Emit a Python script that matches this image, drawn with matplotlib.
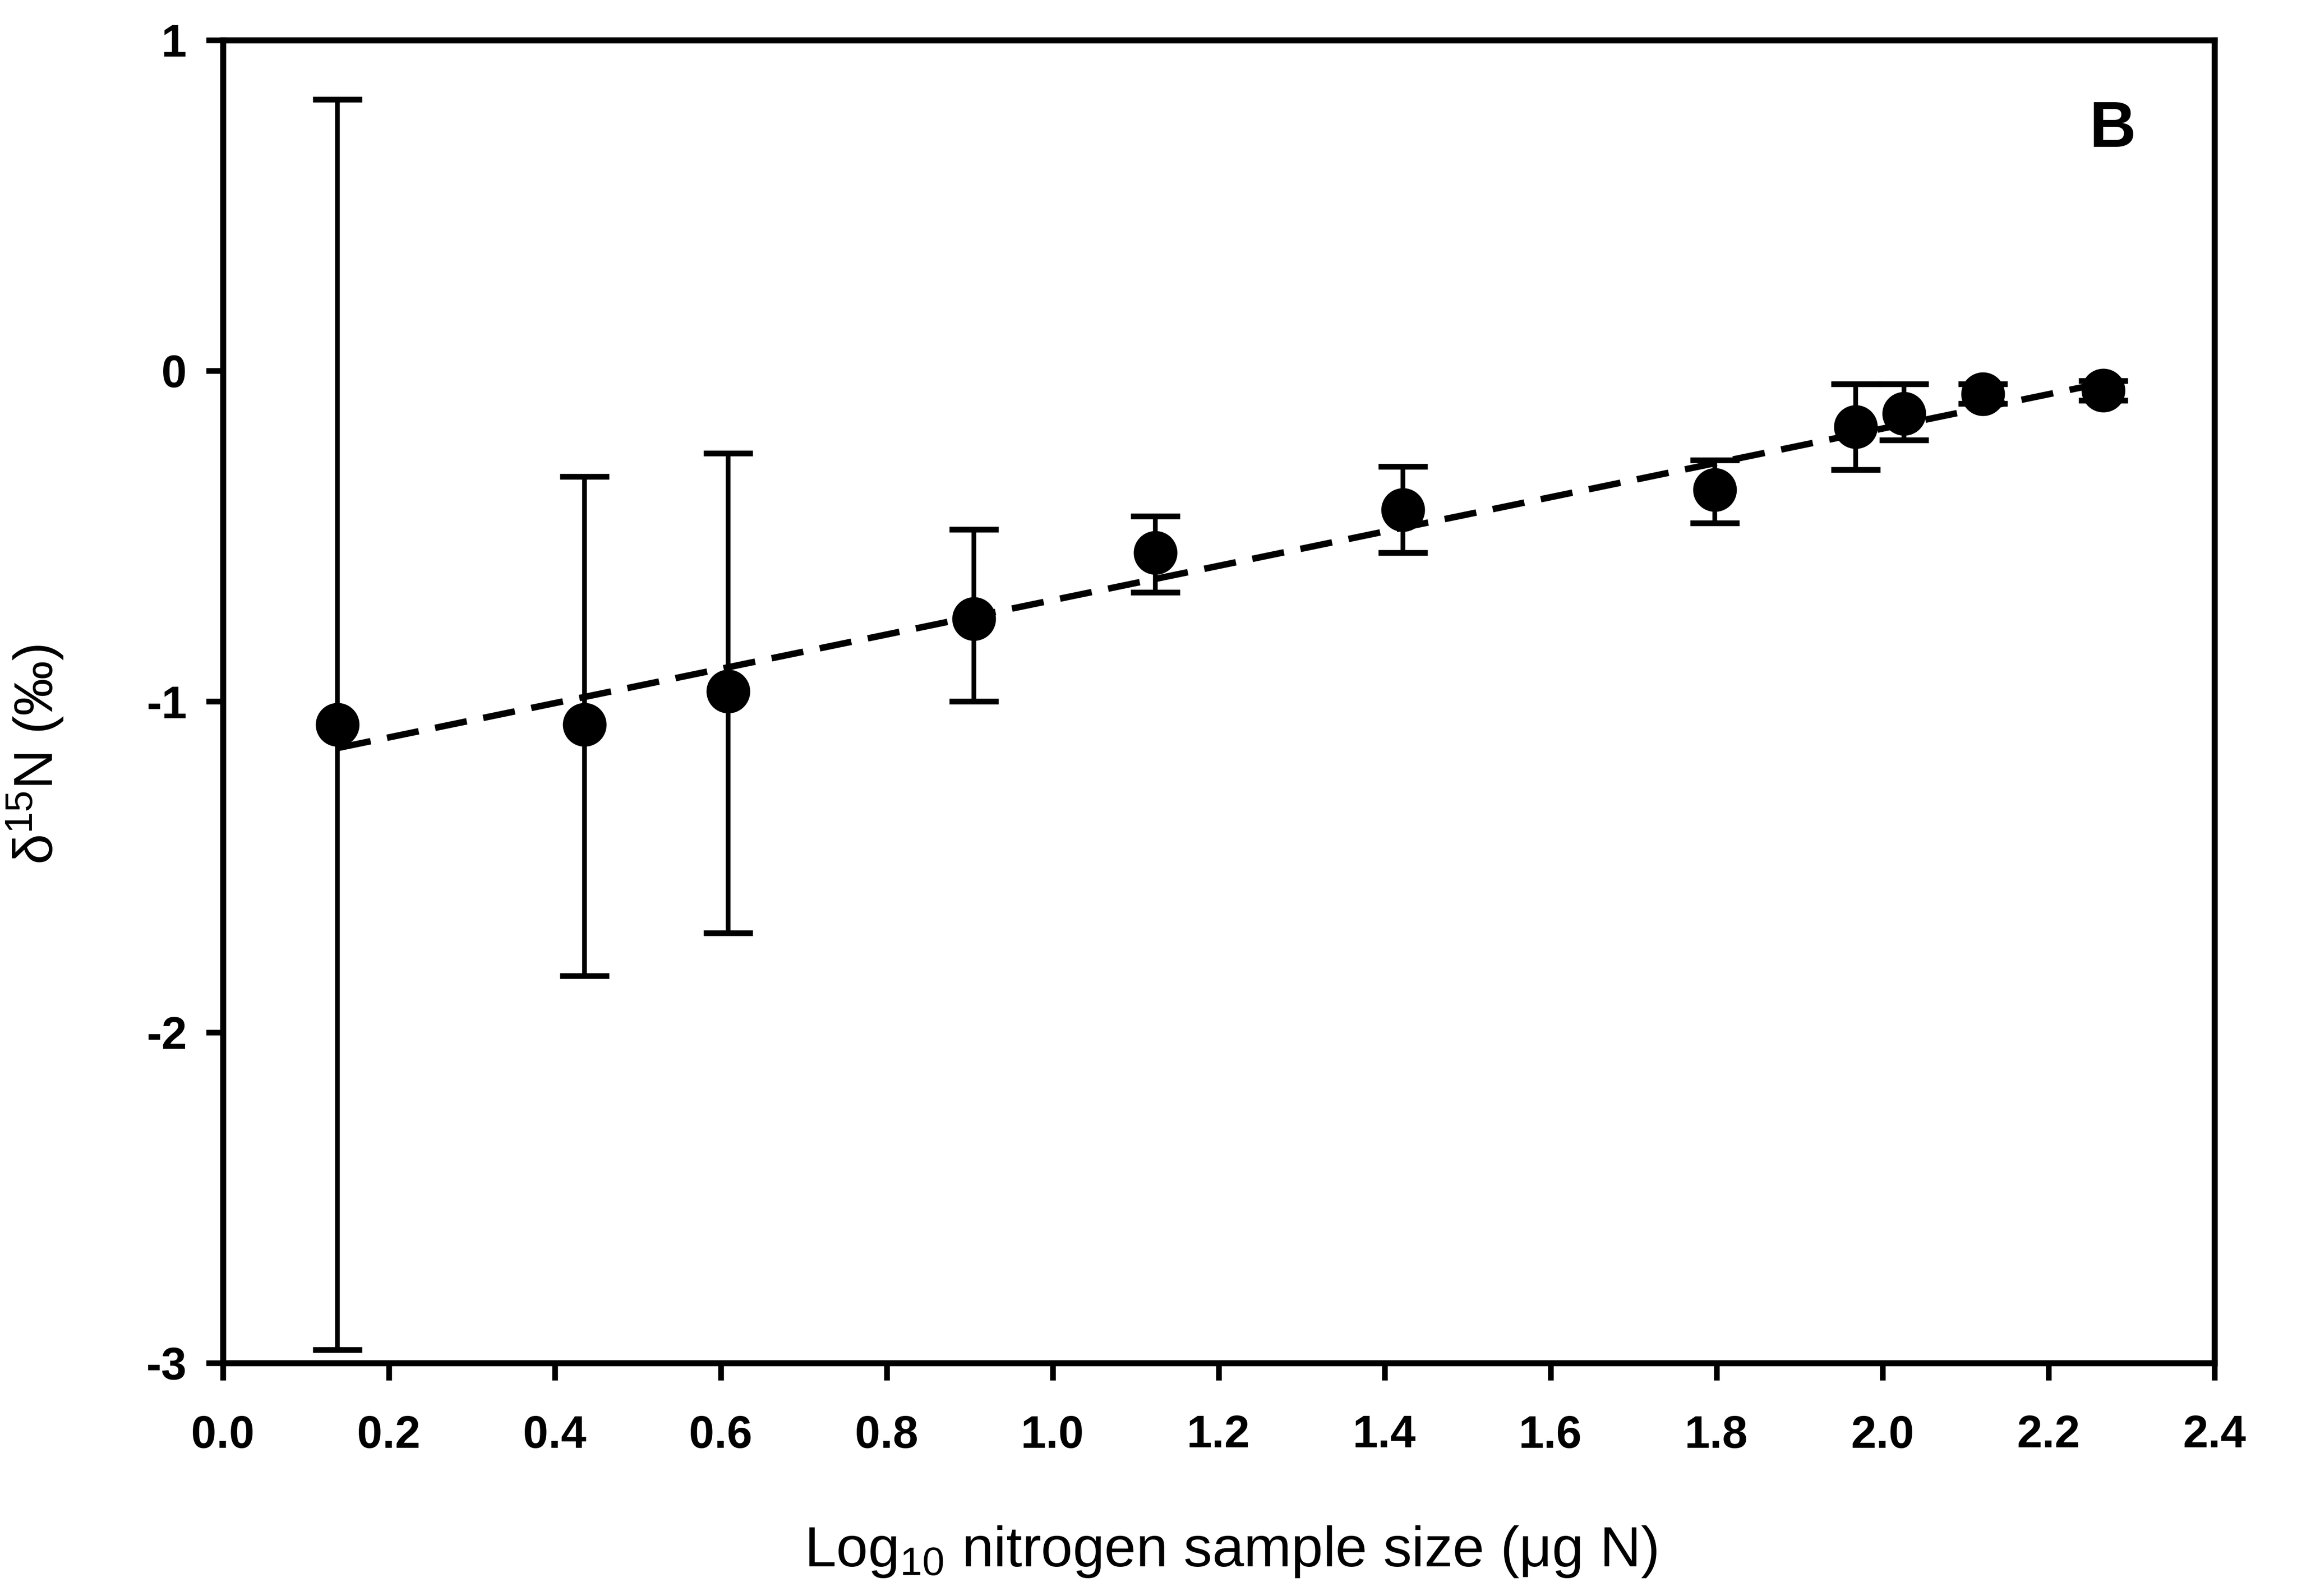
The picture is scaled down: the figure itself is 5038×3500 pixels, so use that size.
import matplotlib
matplotlib.use("Agg")
import matplotlib.pyplot as plt
import numpy as np

plt.rcParams['font.family'] = ['Liberation Sans', 'DejaVu Sans']
plt.rcParams['mathtext.fontset'] = 'custom'
plt.rcParams['mathtext.rm'] = 'Liberation Sans'
plt.rcParams['mathtext.it'] = 'Liberation Sans:italic'
plt.rcParams['mathtext.bf'] = 'Liberation Sans:bold'

# data
log_size = [0.138, 0.436, 0.609, 0.905, 1.124, 1.422, 1.798, 1.968, 2.026, 2.121, 2.266]
d15n = [-1.07, -1.07, -0.97, -0.75, -0.55, -0.42, -0.36, -0.17, -0.13, -0.07, -0.06]
err_hi = [0.82, -0.32, -0.25, -0.48, -0.44, -0.29, -0.27, -0.04, -0.04, -0.04, -0.03]
err_lo = [-2.96, -1.83, -1.70, -1.00, -0.67, -0.55, -0.46, -0.30, -0.21, -0.10, -0.09]

# regression line end points
fit_x = [0.14, 2.27]
fit_y = [-1.14, -0.035]

x_ticks = [0.0, 0.2, 0.4, 0.6, 0.8, 1.0, 1.2, 1.4, 1.6, 1.8, 2.0, 2.2, 2.4]
x_ticklabels = ['0.0', '0.2', '0.4', '0.6', '0.8', '1.0', '1.2', '1.4', '1.6', '1.8', '2.0', '2.2', '2.4']
y_ticks = [1, 0, -1, -2, -3]
y_ticklabels = ['1', '0', '-1', '-2', '-3']

d15n = np.array(d15n)
yerr = [d15n - np.array(err_lo), np.array(err_hi) - d15n]

fig = plt.figure(figsize=(5038 / 300, 3500 / 300), dpi=300)
ax = fig.add_axes([0.097, 0.146, 0.867, 0.829])

ax.plot(fit_x, fit_y, color='black', lw=3.4, ls=(0, (5, 2.6)), zorder=2)
ax.errorbar(log_size, d15n, yerr=yerr, fmt='o', color='black', ms=22,
            elinewidth=2.5, capsize=13, capthick=3, zorder=3)

ax.set_xlim(0, 2.4)
ax.set_ylim(-3, 1)
ax.set_xticks(x_ticks)
ax.set_xticklabels(x_ticklabels, fontsize=24, fontweight='bold')
ax.set_yticks(y_ticks)
ax.set_yticklabels(y_ticklabels, fontsize=24, fontweight='bold')
ax.tick_params(direction='out', length=9, width=3, top=False, right=False)
ax.tick_params(axis='x', pad=18)
ax.tick_params(axis='y', pad=10)
for s in ax.spines.values():
    s.set_linewidth(3.2)

ax.set_xlabel('Log$_{10}$ nitrogen sample size (μg N)', fontsize=30)
ax.xaxis.set_label_coords(0.506, -0.122)
ax.set_ylabel('δ$^{15}$N (‰)', fontsize=29)
ax.yaxis.set_label_coords(-0.079, 0.46)

ax.text(0.949, 0.932, 'B', transform=ax.transAxes, fontsize=34, fontweight='bold',
        ha='center', va='center')

fig.savefig('out.png', dpi=300)
